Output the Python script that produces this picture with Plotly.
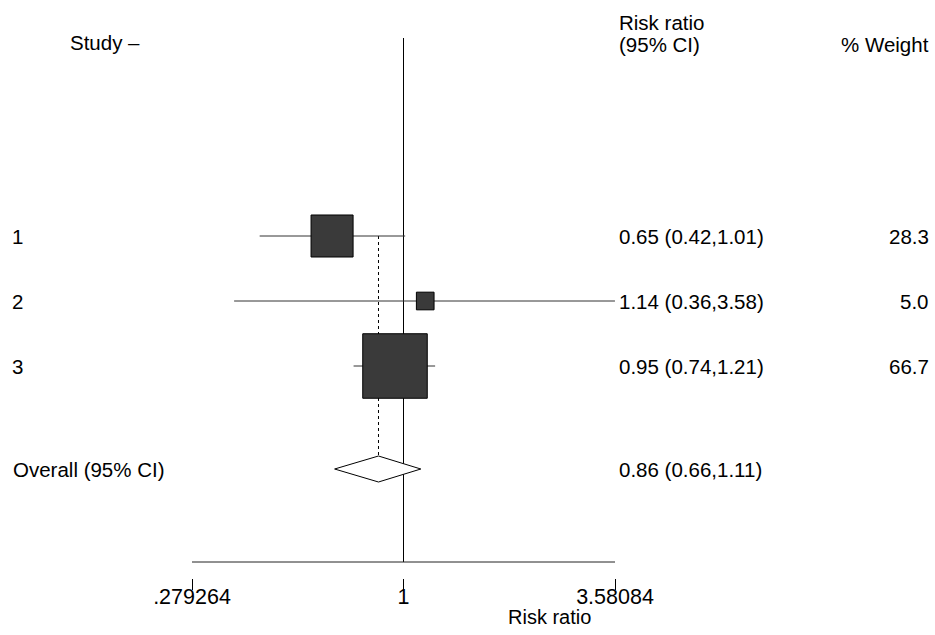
import math
import plotly.graph_objects as go

# ---- data ----
studies = ["1", "2", "3"]
rr = [0.65, 1.14, 0.95]
ci_low = [0.42, 0.36, 0.74]
ci_high = [1.01, 3.58, 1.21]
weights = [28.3, 5.0, 66.7]
overall_label = "Overall (95% CI)"
overall_rr = 0.86
overall_low = 0.66
overall_high = 1.11
x_tick_vals = [0.279264, 1, 3.58084]
x_tick_text = [".279264", "1", "3.58084"]

# ---- layout geometry (page pixels; body margin removed below) ----
W, H = 935, 635
PLOT_L, PLOT_R, PLOT_T, PLOT_B = 192, 615, 0, 578
ML = PLOT_L
MR = W - PLOT_R
MT = PLOT_T
MB = H - PLOT_B
PW = PLOT_R - PLOT_L
PH = PLOT_B - PLOT_T
ROW_PX = 65.0
ROW1_PX = 236.0

def yv(px):
    return 1 + (px - ROW1_PX) / ROW_PX

def xp(px):
    return (px - PLOT_L) / PW

def yp(px):
    return (PLOT_B - px) / PH

rows = [1, 2, 3]
overall_y = yv(469)
axis_y = yv(562)
top_y = yv(38)
FONT = "Liberation Sans, Arial, sans-serif"
FS = 20.5
BOX_SCALE = 7.9

fig = go.Figure()

# null line at 1
fig.add_trace(go.Scatter(x=[1, 1], y=[top_y, axis_y], mode="lines",
                         line=dict(color="black", width=1), hoverinfo="skip"))
# axis line
fig.add_trace(go.Scatter(x=[x_tick_vals[0], x_tick_vals[-1]], y=[axis_y, axis_y], mode="lines",
                         line=dict(color="#222", width=1), hoverinfo="skip"))
# dotted overall line
fig.add_trace(go.Scatter(x=[overall_rr, overall_rr], y=[rows[0], overall_y], mode="lines",
                         line=dict(color="black", width=1, dash="dot"), hoverinfo="skip"))
# CI lines
for i in range(len(studies)):
    fig.add_trace(go.Scatter(x=[ci_low[i], ci_high[i]], y=[rows[i], rows[i]], mode="lines",
                             line=dict(color="#333", width=1), hoverinfo="skip"))
# boxes
fig.add_trace(go.Scatter(x=rr, y=rows, mode="markers",
                         marker=dict(symbol="square", size=[BOX_SCALE * math.sqrt(w) for w in weights],
                                     color="#3a3a3a", opacity=1,
                                     line=dict(color="black", width=1)),
                         hoverinfo="skip"))
# diamond
dh = 0.2
fig.add_trace(go.Scatter(x=[overall_low, overall_rr, overall_high, overall_rr, overall_low],
                         y=[overall_y, overall_y - dh, overall_y, overall_y + dh, overall_y],
                         mode="lines", fill="toself", fillcolor="white",
                         line=dict(color="black", width=1), hoverinfo="skip"))

ann = []
def txt(text, x, y, anchor, size=FS, yref="y"):
    ann.append(dict(text=text, x=x, y=y, xref="paper", yref=yref, xanchor=anchor, yanchor="middle",
                    showarrow=False, font=dict(family=FONT, size=size, color="black")))

txt("Study –", xp(68), yv(42), "left")
txt("Risk ratio", xp(617), yv(22), "left")
txt("(95% CI)", xp(617), yv(44), "left")
txt("% Weight", xp(931), yv(44), "right")
for i, s in enumerate(studies):
    txt(s, xp(10), rows[i], "left")
    txt(f"{rr[i]:.2f} ({ci_low[i]:.2f},{ci_high[i]:.2f})", xp(617), rows[i], "left")
    txt(f"{weights[i]:.1f}", xp(931), rows[i], "right")
txt(overall_label, xp(11), overall_y, "left")
txt(f"{overall_rr:.2f} ({overall_low:.2f},{overall_high:.2f})", xp(617), overall_y, "left")
txt("Risk ratio", xp(549), yp(617), "center", size=20, yref="paper")

fig.update_layout(
    width=W, height=H, margin=dict(l=ML, r=MR, t=MT, b=MB, pad=0),
    paper_bgcolor="white", plot_bgcolor="white", showlegend=False,
    annotations=ann,
    xaxis=dict(type="log", range=[math.log10(x_tick_vals[0]), math.log10(x_tick_vals[-1])],
               tickvals=x_tick_vals, ticktext=x_tick_text, ticks="outside", ticklen=11,
               tickcolor="black", tickwidth=1, showgrid=False, zeroline=False, showline=False,
               ticklabelstandoff=-12,
               tickfont=dict(family=FONT, size=21.5, color="black")),
    yaxis=dict(range=[yv(PLOT_B), yv(PLOT_T)], visible=False, showgrid=False, zeroline=False),
)
fig.write_html("out.html", config={"displayModeBar": False},
               post_script="document.body.style.margin='0';document.body.style.overflow='hidden';")
